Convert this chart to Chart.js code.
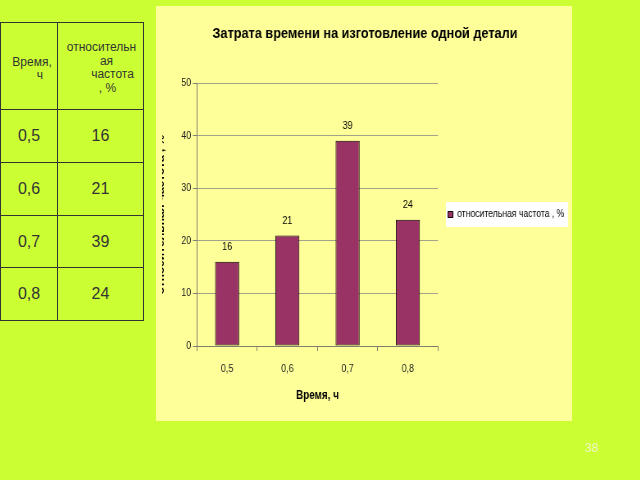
<!DOCTYPE html>
<html>
<head>
<meta charset="utf-8">
<script src="https://cdn.jsdelivr.net/npm/chart.js@4.4.1/dist/chart.umd.min.js"></script>
<style>
  html, body { margin: 0; padding: 0; width: 640px; height: 480px; overflow: hidden; background: #ccff33; font-family: 'Liberation Sans', Arial, sans-serif; }
  #panel { position: absolute; left: 156px; top: 6px; width: 416px; height: 415px; background: #ffff99; }
  #clip { position: absolute; left: 162px; top: 5px; width: 410px; height: 416px; overflow: hidden; }
  #chart { position: absolute; left: -8px; top: 0; transform: scaleX(0.82); transform-origin: 0 0; }
  #freqTable { position: absolute; left: 0; top: 22px; border-collapse: collapse; table-layout: fixed; }
  #freqTable td { border: 1px solid #333; padding: 0; text-align: center; vertical-align: middle; color: #333; }
  #freqTable td.h { font-size: 12px; line-height: 13.5px; }
  #freqTable td.v { font-size: 16px; }
  #freqTable td.h span { display: block; position: relative; white-space: nowrap; }
  #pageNo { position: absolute; left: 585px; top: 441px; font-size: 12px; color: #eef8c4; }
</style>
</head>
<body>
<div id="panel"></div>
<table id="freqTable"></table>
<div id="clip"><canvas id="chart" width="510" height="416"></canvas></div>
<div id="pageNo">38</div>
<script>
// ---- data ----
const categories = ['0,5', '0,6', '0,7', '0,8'];
const frequencies = [16, 21, 39, 24];
const yTickValues = [0, 10, 20, 30, 40, 50];
const seriesLabel = 'относительная частота , %';
const chartTitle = 'Затрата времени на изготовление одной детали';
const xAxisTitle = 'Время, ч';
const yAxisTitle = 'относительная частота , %';
const headerCol1Lines = ['Время,', 'ч'];
const headerCol2Lines = ['относительн', 'ая', 'частота', ', %'];

// ---- table ----
(function buildTable() {
  const t = document.getElementById('freqTable');
  const cg = document.createElement('colgroup');
  [57, 86].forEach(w => { const c = document.createElement('col'); c.style.width = w + 'px'; cg.appendChild(c); });
  t.appendChild(cg);
  const hr = document.createElement('tr');
  hr.style.height = '87px';
  const h1 = document.createElement('td'); h1.className = 'h'; h1.style.paddingTop = '6px';
  const h1Shift = [3, 11];
  headerCol1Lines.forEach((s, i) => { const sp = document.createElement('span'); sp.textContent = s; sp.style.left = h1Shift[i] + 'px'; h1.appendChild(sp); });
  const h2 = document.createElement('td'); h2.className = 'h'; h2.style.paddingTop = '4px';
  const h2Shift = [1, 6, 12, 7];
  headerCol2Lines.forEach((s, i) => { const sp = document.createElement('span'); sp.textContent = s; sp.style.left = h2Shift[i] + 'px'; h2.appendChild(sp); });
  hr.appendChild(h1); hr.appendChild(h2); t.appendChild(hr);
  const rowH = [53, 53, 52, 53];
  categories.forEach((c, i) => {
    const tr = document.createElement('tr');
    tr.style.height = rowH[i] + 'px';
    const a = document.createElement('td'); a.className = 'v'; a.textContent = c;
    const b = document.createElement('td'); b.className = 'v'; b.textContent = frequencies[i];
    tr.appendChild(a); tr.appendChild(b); t.appendChild(tr);
  });
})();

// ---- chart ----
const FONT = "'Liberation Sans', Arial, sans-serif";
const AXIS = '#7f7f70';
const GRID = '#a3a38c';
const BAR = '#993366';

const barValueLabels = {
  id: 'barValueLabels',
  afterDatasetsDraw(chart) {
    const ctx = chart.ctx;
    const ds = chart.data.datasets[0];
    const meta = chart.getDatasetMeta(0);
    ctx.save();
    ctx.font = '11px ' + FONT;
    ctx.fillStyle = '#000';
    ctx.textAlign = 'center';
    ctx.textBaseline = 'middle';
    meta.data.forEach((bar, i) => ctx.fillText(String(ds.data[i]), bar.x, bar.y - 15));
    ctx.restore();
  }
};

const legendBackground = {
  id: 'legendBackground',
  beforeDraw(chart) {
    const lg = chart.legend;
    if (!lg || !lg.legendHitBoxes || !lg.legendHitBoxes.length) return;
    const hb = lg.legendHitBoxes[0];
    const cy = hb.top + hb.height / 2;
    const ctx = chart.ctx;
    ctx.save();
    ctx.fillStyle = '#ffffff';
    ctx.fillRect(lg.left + 9.8, cy - 12.5, 148.8, 25);
    ctx.restore();
  }
};

new Chart(document.getElementById('chart'), {
  type: 'bar',
  data: {
    labels: categories,
    datasets: [{
      label: seriesLabel,
      data: frequencies,
      backgroundColor: BAR,
      borderColor: '#000000',
      borderWidth: 1,
      borderSkipped: false,
      categoryPercentage: 1.0,
      barPercentage: 0.4
    }]
  },
  options: {
    responsive: false,
    animation: false,
    devicePixelRatio: 1,
    layout: { padding: { left: 4.6, right: 0, top: 0, bottom: 0 } },
    plugins: {
      title: {
        display: true,
        text: chartTitle,
        color: '#000',
        font: { family: FONT, size: 15.5, weight: 'bold' },
        padding: { top: 19.4, bottom: 40 }
      },
      legend: {
        display: true,
        position: 'right',
        fullSize: false,
        maxWidth: 163.7,
        labels: {
          color: '#000',
          font: { family: FONT, size: 10.5 },
          boxWidth: 6,
          boxHeight: 6,
          padding: 12.2
        }
      },
      tooltip: { enabled: false }
    },
    scales: {
      x: {
        afterFit(scale) { scale.height = 75; },
        grid: {
          display: true,
          offset: true,
          drawOnChartArea: true,
          color: (c) => (c.index === 0 || c.index === categories.length) ? AXIS : 'rgba(0,0,0,0)',
          tickColor: AXIS,
          tickLength: 5,
          lineWidth: 1
        },
        border: { display: true, color: AXIS },
        ticks: { color: '#222', font: { family: FONT, size: 11 }, padding: 11, maxRotation: 0 },
        title: {
          display: true,
          text: xAxisTitle,
          color: '#000',
          font: { family: FONT, size: 12, weight: 'bold' },
          padding: { top: 0, bottom: 17.8 }
        }
      },
      y: {
        afterFit(scale) { scale.width = 47.8; },
        min: yTickValues[0],
        max: yTickValues[yTickValues.length - 1],
        ticks: {
          stepSize: yTickValues[1] - yTickValues[0],
          color: '#222',
          font: { family: FONT, size: 11 },
          padding: 2
        },
        grid: { color: GRID, tickColor: AXIS, tickLength: 5, lineWidth: 1 },
        border: { display: true, color: AXIS },
        title: {
          display: true,
          text: yAxisTitle,
          color: '#000',
          font: { family: FONT, size: 12, weight: 'bold' },
          padding: { top: -2.65, bottom: 0 }
        }
      }
    }
  },
  plugins: [legendBackground, barValueLabels]
});
</script>
</body>
</html>
